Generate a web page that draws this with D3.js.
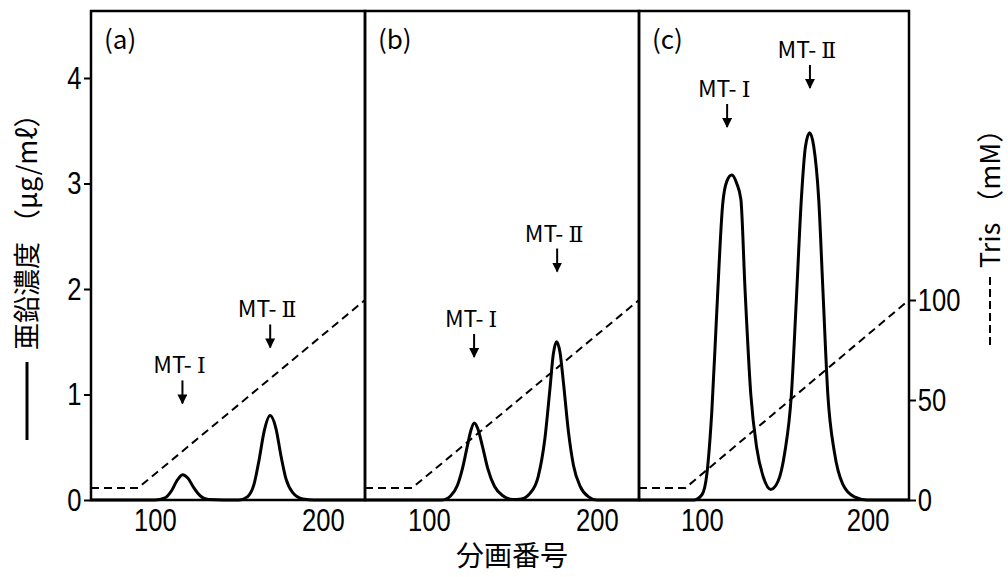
<!DOCTYPE html>
<html>
<head>
<meta charset="utf-8">
<script src="https://cdn.jsdelivr.net/npm/d3@7"></script>
<style>
  body { margin: 0; background: #fff; }
</style>
</head>
<body>
<div id="chart"></div>
<script>
// panel names
const panelNames = ['(a)', '(b)', '(c)'];

// fraction numbers and zinc concentration (ug/ml) for each panel
const fractionsA = [62, 100, 106, 110, 113, 116.5, 120, 123, 127, 132, 150, 155, 159, 162, 165, 168.5, 172, 175, 178, 182, 188, 195, 225];
const zincA      = [0, 0, 0.02, 0.09, 0.18, 0.24, 0.2, 0.12, 0.04, 0.005, 0, 0.03, 0.15, 0.38, 0.65, 0.8, 0.68, 0.42, 0.2, 0.07, 0.01, 0, 0];

const fractionsB = [62, 108, 113, 117, 120, 123, 125, 127, 129, 132, 135, 139, 144, 150, 155, 160, 165, 169, 172, 174, 176, 178, 180, 183, 186, 190, 195, 200, 225];
const zincB      = [0, 0, 0.04, 0.14, 0.3, 0.52, 0.66, 0.73, 0.68, 0.5, 0.3, 0.13, 0.04, 0.005, 0.01, 0.06, 0.22, 0.58, 1.05, 1.38, 1.5, 1.4, 1.12, 0.65, 0.33, 0.13, 0.03, 0, 0];

const fractionsC = [62, 95, 100, 103, 106, 109, 112.5, 115, 118, 121, 123.5, 126, 129.5, 133, 137, 141.5, 146, 150, 154, 157, 160, 162.5, 165, 167.5, 170.5, 173, 176, 180, 185, 192, 200, 225];
const zincC      = [0, 0, 0.05, 0.25, 0.85, 1.8, 2.8, 3.02, 3.08, 3.0, 2.85, 2.0, 1.0, 0.5, 0.22, 0.1, 0.18, 0.45, 1.0, 1.9, 2.85, 3.35, 3.48, 3.35, 2.85, 2.0, 1.0, 0.45, 0.15, 0.03, 0, 0];

// Tris gradient (mM), same for all panels
const trisFractions = [62, 90, 225];
const trisValues    = [6, 6, 100];

// peak labels: [fraction, zinc level of the label]
const peakNumerals = ['Ⅰ', 'Ⅱ'];
const peaksA = [[116.4, 1.2], [168.6, 1.73]];
const peaksB = [[126.9, 1.64], [176.3, 2.45]];
const peaksC = [[115.2, 3.82], [165.2, 4.19]];

// ticks
const zincTicks = [0, 1, 2, 3, 4];
const trisTicks = [0, 50, 100];
const fractionTicks = [100, 200];

const numFont = "'Liberation Sans', Arial, sans-serif";
const jpFont = "'Noto Sans CJK JP', 'Noto Sans', sans-serif";

const W = 1008, H = 577;
const frameTop = 11, frameBottom = 500;
const panelEdges = [91, 365, 639, 909];

const svg = d3.select('#chart').append('svg')
    .attr('width', W)
    .attr('height', H);

// zinc scale (left) and tris scale (right)
const yZinc = d3.scaleLinear().domain([0, 4]).range([frameBottom, 78]);
const yTris = d3.scaleLinear().domain([0, 100]).range([frameBottom, 300]);

const panels = [
    {fr: fractionsA, zn: zincA, peaks: peaksA},
    {fr: fractionsB, zn: zincB, peaks: peaksB},
    {fr: fractionsC, zn: zincC, peaks: peaksC}
];

// arrow head
svg.append('defs').append('marker')
    .attr('id', 'head')
    .attr('viewBox', '0 0 10 10')
    .attr('refX', 9).attr('refY', 5)
    .attr('markerWidth', 5).attr('markerHeight', 5)
    .attr('orient', 'auto')
    .append('path')
    .attr('d', 'M0,0 L10,5 L0,10 Z')
    .attr('fill', '#000');

// narrow the tick numbers like the original print
let styleTicks = (sel) => {
    sel.selectAll('text')
        .attr('font-family', numFont)
        .attr('font-size', 32)
        .attr('fill', '#000')
        .attr('transform', 'scale(0.8,1)');
}

panels.forEach((p, i) => {
    const x = d3.scaleLinear()
        .domain([62, 225])
        .range([panelEdges[i], panelEdges[i + 1]]);

    const g = svg.append('g');

    // tris gradient (dashed)
    const trisLine = d3.line()
        .x(d => x(d[0]))
        .y(d => yTris(d[1]));
    g.append('path')
        .datum(d3.zip(trisFractions, trisValues))
        .attr('d', trisLine)
        .attr('fill', 'none')
        .attr('stroke', '#000')
        .attr('stroke-width', 2)
        .attr('stroke-dasharray', '8,5');

    // zinc curve (solid)
    const zincLine = d3.line()
        .x(d => x(d[0]))
        .y(d => yZinc(d[1]))
        .curve(d3.curveMonotoneX);
    g.append('path')
        .datum(d3.zip(p.fr, p.zn))
        .attr('d', zincLine)
        .attr('fill', 'none')
        .attr('stroke', '#000')
        .attr('stroke-width', 3);

    // panel frame
    g.append('rect')
        .attr('x', panelEdges[i])
        .attr('y', frameTop)
        .attr('width', panelEdges[i + 1] - panelEdges[i])
        .attr('height', frameBottom - frameTop)
        .attr('fill', 'none')
        .attr('stroke', '#000')
        .attr('stroke-width', 2.5);

    // panel name
    g.append('text')
        .attr('x', panelEdges[i] + 13)
        .attr('y', 49)
        .attr('font-family', jpFont)
        .attr('font-size', 26)
        .text(panelNames[i]);

    // x axis
    const xAxis = g.append('g')
        .attr('transform', `translate(0,${frameBottom})`)
        .call(d3.axisBottom(x).tickValues(fractionTicks).tickSize(0).tickPadding(8));
    xAxis.select('.domain').remove();
    styleTicks(xAxis);

    // peak labels with arrows
    p.peaks.forEach((pk, k) => {
        const px = x(pk[0]);
        const py = yZinc(pk[1]);
        const lab = g.append('text')
            .attr('x', px - 3)
            .attr('y', py)
            .attr('text-anchor', 'middle')
            .attr('font-family', jpFont)
            .attr('font-size', 23);
        lab.append('tspan').text('MT- ');
        lab.append('tspan')
            .attr('font-family', "'DejaVu Serif', serif")
            .attr('font-size', 22)
            .text(peakNumerals[k]);
        g.append('line')
            .attr('x1', px).attr('x2', px)
            .attr('y1', py + 7).attr('y2', py + 30)
            .attr('stroke', '#000')
            .attr('stroke-width', 2)
            .attr('marker-end', 'url(#head)');
    });
});

// left axis
const yAxisL = svg.append('g')
    .attr('transform', `translate(${panelEdges[0]},0)`)
    .call(d3.axisLeft(yZinc).tickValues(zincTicks).tickSize(7).tickPadding(5).tickFormat(d3.format('d')));
yAxisL.select('.domain').remove();
yAxisL.selectAll('line').attr('stroke-width', 2);
styleTicks(yAxisL);

// right axis
const yAxisR = svg.append('g')
    .attr('transform', `translate(${panelEdges[3]},0)`)
    .call(d3.axisRight(yTris).tickValues(trisTicks).tickSize(7).tickPadding(4).tickFormat(d3.format('d')));
yAxisR.select('.domain').remove();
yAxisR.selectAll('line').attr('stroke-width', 2);
styleTicks(yAxisR);

// x axis title
svg.append('text')
    .attr('x', 512)
    .attr('y', 566)
    .attr('text-anchor', 'middle')
    .attr('font-family', jpFont)
    .attr('font-size', 28)
    .text('分画番号');

// left title: solid line sample + text
svg.append('line')
    .attr('x1', 27).attr('x2', 27)
    .attr('y1', 440).attr('y2', 362)
    .attr('stroke', '#000')
    .attr('stroke-width', 3);
svg.append('text')
    .attr('transform', 'translate(37,350) rotate(-90)')
    .attr('font-family', jpFont)
    .attr('font-size', 27)
    .text('亜鉛濃度 （μg/mℓ）');

// right title: dashed line sample + text
svg.append('line')
    .attr('x1', 990).attr('x2', 990)
    .attr('y1', 345).attr('y2', 275)
    .attr('stroke', '#000')
    .attr('stroke-width', 2)
    .attr('stroke-dasharray', '8,4');
svg.append('text')
    .attr('transform', 'translate(1000,268) rotate(-90)')
    .attr('font-family', jpFont)
    .attr('font-size', 27)
    .text('Tris （mM）');
</script>
</body>
</html>
